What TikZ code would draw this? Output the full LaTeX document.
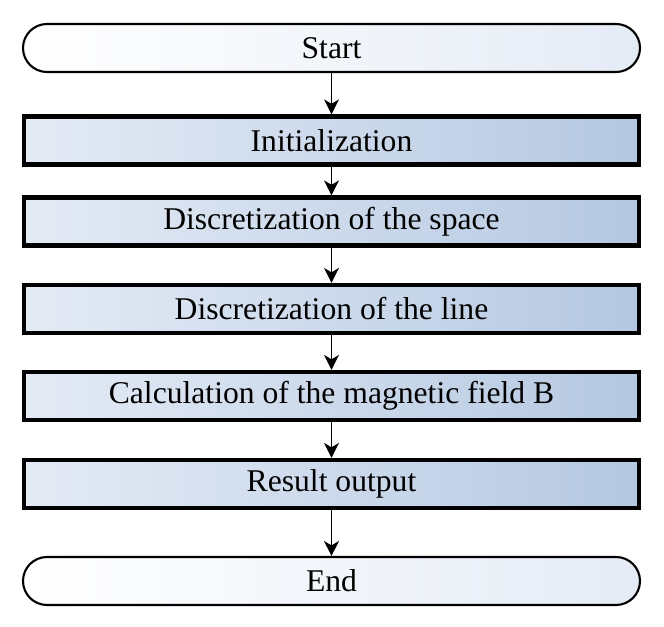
\documentclass[tikz,border=0pt]{standalone}
\usepackage{fontspec}
\setmainfont{Liberation Serif}
\usetikzlibrary{arrows.meta}
\definecolor{procL}{HTML}{E4EBF5}
\definecolor{procR}{HTML}{B5C8E1}
\definecolor{termR}{HTML}{E5EBF5}
\begin{document}
\begin{tikzpicture}[
  every node/.style={font=\fontsize{18}{21}\selectfont},
  proc/.style={draw, line width=2.4pt, left color=procL, right color=procR,
               minimum width=12.3cm, minimum height=0.96cm},
  term/.style={draw, line width=1.2pt, rounded corners=0.48cm,
               left color=white, right color=termR,
               minimum width=12.34cm, minimum height=0.96cm},
  flow/.style={-{Stealth[length=8.5pt,width=8.5pt,inset=2.5pt]}, line width=1.1pt},
]
\useasboundingbox (0,0) rectangle (13.28,-12.54);
\def\cx{6.63}

% ── terminals ──────────────────
\node[term] (start) at (\cx,-0.96) {Start};
\node[term] (end)   at (\cx,-11.62) {End};

% ── process steps ──────────────────
\node[proc] (init)  at (\cx,-2.81) {Initialization};
\node[proc] (space) at (\cx,-4.43) {Discretization of the space};
\node[proc] (line)  at (\cx,-6.18) {Discretization of the line};
\node[proc] (calc)  at (\cx,-7.92) {Calculation of the magnetic field B};
\node[proc] (out)   at (\cx,-9.68) {Result output};

% ── connectors ──────────────────
\draw[flow] (start) -- (init);
\draw[flow] (init)  -- (space);
\draw[flow] (space) -- (line);
\draw[flow] (line)  -- (calc);
\draw[flow] (calc)  -- (out);
\draw[flow] (out)   -- (end);

\end{tikzpicture}
\end{document}
